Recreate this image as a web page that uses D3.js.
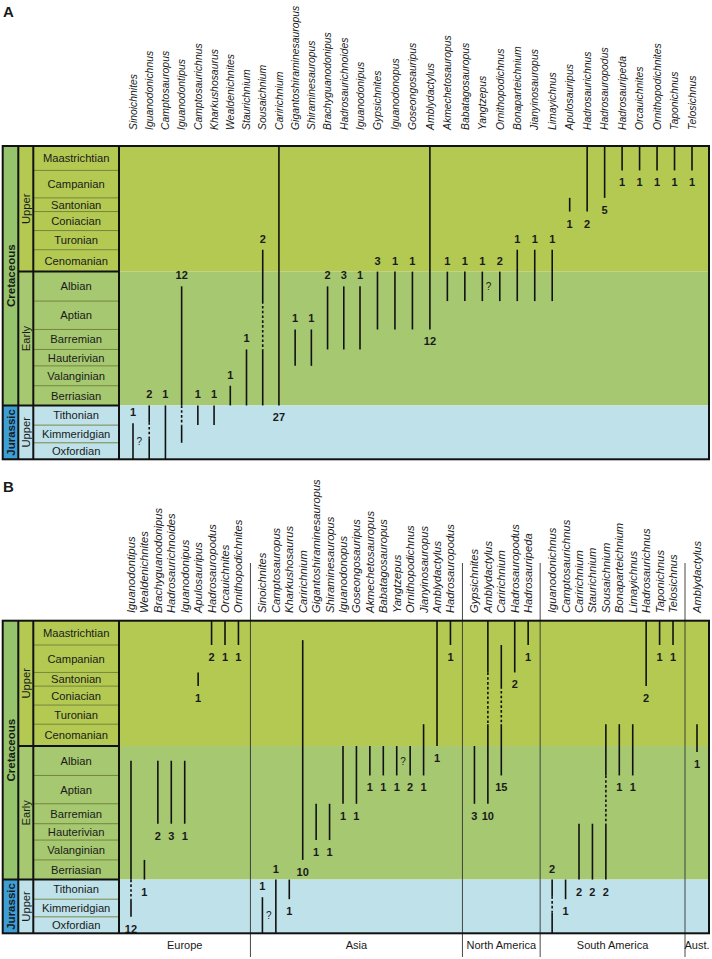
<!DOCTYPE html>
<html><head><meta charset="utf-8">
<script src="https://cdn.jsdelivr.net/npm/d3@7"></script>
<style>
body{margin:0;background:#fff}
svg{display:block}
text{font-family:"Liberation Sans",Arial,Helvetica,sans-serif;fill:#1a1a1a}
</style>
</head><body>
<svg id="chart" width="712" height="959"></svg>
<script>
// ---------- Time scale ----------
const stages = ["Maastrichtian","Campanian","Santonian","Coniacian","Turonian","Cenomanian",
  "Albian","Aptian","Barremian","Hauterivian","Valanginian","Berriasian",
  "Tithonian","Kimmeridgian","Oxfordian"];
// relative drawn height of each stage row (the figure is not to time scale)
const stageWeights = [24.4,27.5,13.7,19,19.2,21.9,29.5,28.4,20,16.4,19.9,19.7,19.7,17.7,16.5];
const epochNames = ["Upper","Early","Upper"];
const epochFrom = [0,6,12];
const epochTo = [6,12,15];
const periodNames = ["Cretaceous","Jurassic"];
const periodFrom = [0,12];
const periodTo = [12,15];

// ---------- Panel A : global ranges ----------
const taxaA = ["Sinoichnites","Iguanodonichnus","Camptosauropus","Iguanodontipus","Camptosaurichnus",
  "Kharkushosaurus","Wealdenichnites","Staurichnium","Sousaichnium","Caririchnium",
  "Gigantoshiraminesauropus","Shiraminesauropus","Brachyguanodonipus","Hadrosaurichnoides","Iguanodonipus",
  "Gypsichnites","Iguanodonopus","Goseongosauripus","Amblydactylus","Akmechetosauropus",
  "Babatagosauropus","Yangtzepus","Ornithopodichnus","Bonaparteichnium","Jianyinosauropus",
  "Limayichnus","Apulosauripus","Hadrosaurichnus","Hadrosauropodus","Hadrosauripeda",
  "Orcauichnites","Ornithopodichnites","Taponichnus","Telosichnus"];
// range in stage units (0 = top of Maastrichtian, 15 = base of Oxfordian)
const fromA = [12.9,12,12,6.5,12, 12,11,9,5,0, 8,8,6.5,6.5,6.5, 6,6,6,0,6, 6,6,6,5,5, 5,2,0,0,0, 0,0,0,0];
const toA   = [15,15,15,14,13, 13,12,12,12,12, 10,10,9,9,9, 8,8,8,8,7, 7,7,7,7,7, 7,3,3,2,1, 1,1,1,1];
const countA = [1,2,1,12,1, 1,1,1,2,27, 1,1,2,3,1, 3,1,1,12,1, 1,1,2,1,1, 1,1,2,5,1, 1,1,1,1];
const sideA = ["above","above","above","above","above","above","above","above","above","below",
  "above","above","above","above","above","above","above","above","below","above",
  "above","above","above","above","above","above","below","below","below","below",
  "below","below","below","below"];
const dashFromA = [null,12.85,null,12,null, null,null,null,7,null, null,null,null,null,null, null,null,null,null,null,
  null,null,null,null,null, null,null,null,null,null, null,null,null,null];
const dashToA = [null,13.75,null,13,null, null,null,null,9,null, null,null,null,null,null, null,null,null,null,null,
  null,null,null,null,null, null,null,null,null,null, null,null,null,null];
const queryA = [true,false,false,false,false, false,false,false,false,false, false,false,false,false,false,
  false,false,false,false,false, false,true,false,false,false, false,false,false,false,false,
  false,false,false,false];

// ---------- Panel B : ranges by continent ----------
const regions = ["Europe","Asia","North America","South America","Aust."];
const taxaB = ["Iguanodontipus","Wealdenichnites","Brachyguanodonipus","Hadrosaurichnoides","Iguanodonipus",
  "Apulosauripus","Hadrosauropodus","Orcauichnites","Ornithopodichnites",
  "Sinoichnites","Camptosauropus","Kharkushosaurus","Caririchnium","Gigantoshiraminesauropus",
  "Shiraminesauropus","Iguanodonopus","Goseongosauripus","Akmechetosauropus","Babatagosauropus",
  "Yangtzepus","Ornithopodichnus","Jianyinosauropus","Amblydactylus","Hadrosauropodus",
  "Gypsichnites","Amblydactylus","Caririchnium","Hadrosauropodus","Hadrosauripeda",
  "Iguanodonichnus","Camptosaurichnus","Caririchnium","Staurichnium","Sousaichnium",
  "Bonaparteichnium","Limayichnus","Hadrosaurichnus","Taponichnus","Telosichnus",
  "Amblydactylus"];
const regionB = [0,0,0,0,0,0,0,0,0, 1,1,1,1,1,1,1,1,1,1,1,1,1,1,1, 2,2,2,2,2, 3,3,3,3,3,3,3,3,3,3, 4];
const fromB = [6.5,11,6.5,6.5,6.5,2,0,0,0, 12.9,12,12,0.8,8,8,6,6,6,6,6,6,5,0,0, 6,0,1,0,0, 12,12,9,9,5,5,5,0,0,0, 5];
const toB   = [14,12,9,9,9,3,1,1,1, 15,15,13,11,10,10,8,8,7,7,7,7,7,6,1, 8,8,7,2,1, 15,13,12,12,12,7,7,3,1,1, 6.2];
const countB = [12,1,2,3,1,1,2,1,1, 1,1,1,10,1,1,1,1,1,1,1,2,1,1,1, 3,10,15,2,1, 2,1,2,2,2,1,1,2,1,1, 1];
const sideB = ["below","below","below","below","below","below","below","below","below",
  "above","above","below","below","below","below","below","below","below","below","below","below","below","below","below",
  "below","below","below","below","below",
  "above","below","below","below","below","below","below","below","below","below",
  "below"];
const dashFromB = [12,null,null,null,null,null,null,null,null, null,null,null,null,null,null,null,null,null,null,null,null,null,null,null,
  null,2,3,null,null, 12.85,null,null,null,7,null,null,null,null,null, null];
const dashToB = [13,null,null,null,null,null,null,null,null, null,null,null,null,null,null,null,null,null,null,null,null,null,null,null,
  null,5,5,null,null, 13.75,null,null,null,9,null,null,null,null,null, null];
const queryB = taxaB.map((t,i) => (t === "Sinoichnites" || t === "Yangtzepus"));

// ---------- layout ----------
const svg = d3.select("#chart");
const X = {period: 2.7, epoch: 18.3, stage: 33.3, chart: 119, right: 709};
const COL = {upper:"#b3c952", early:"#a6c870", jur:"#bfe2ea", cret:"#95c46c", jurP:"#3d9fd6"};
const epochFill = [COL.upper, COL.early, COL.jur];
const periodFill = [COL.cret, COL.jurP];

function yScale(top, bottom) {
  const total = d3.sum(stageWeights);
  const cum = [0];
  stageWeights.forEach(w => cum.push(cum[cum.length - 1] + w));
  return d3.scaleLinear().domain(d3.range(stages.length + 1))
    .range(cum.map(c => top + (bottom - top) * c / total));
}

function drawBackground(g, y) {
  epochNames.forEach((e, i) => {
    g.append("rect").attr("x", X.epoch).attr("y", y(epochFrom[i]))
      .attr("width", X.right - X.epoch).attr("height", y(epochTo[i]) - y(epochFrom[i]))
      .attr("fill", epochFill[i]);
  });
  periodNames.forEach((p, i) => {
    g.append("rect").attr("x", X.period).attr("y", y(periodFrom[i]))
      .attr("width", X.epoch - X.period).attr("height", y(periodTo[i]) - y(periodFrom[i]))
      .attr("fill", periodFill[i]);
  });
}

function drawFrame(g, y) {
  // stage rows
  stages.forEach((s, i) => {
    if (i > 0 && !epochFrom.includes(i)) {
      g.append("line").attr("x1", X.stage).attr("x2", X.chart).attr("y1", y(i)).attr("y2", y(i))
        .attr("stroke", "#6f7f3a").attr("stroke-width", 0.9);
    }
    g.append("text").attr("x", (X.stage + X.chart) / 2).attr("y", (y(i) + y(i + 1)) / 2 + 4)
      .attr("text-anchor", "middle").attr("font-size", "11.2px").text(s);
  });
  // epoch labels
  epochNames.forEach((e, i) => {
    const cy = (y(epochFrom[i]) + y(epochTo[i])) / 2;
    const cx = (X.epoch + X.stage) / 2 + 4;
    g.append("text").attr("transform", `translate(${cx},${cy}) rotate(-90)`)
      .attr("text-anchor", "middle").attr("font-size", "11.2px").text(e);
  });
  periodNames.forEach((p, i) => {
    const cy = (y(periodFrom[i]) + y(periodTo[i])) / 2;
    const cx = (X.period + X.epoch) / 2 + 4.2;
    g.append("text").attr("transform", `translate(${cx},${cy}) rotate(-90)`)
      .attr("text-anchor", "middle").attr("font-size", "11.5px").attr("font-weight", "bold").text(p);
  });
  // thick boundaries
  const thick = (x1, x2, y1, y2) => g.append("line").attr("x1", x1).attr("x2", x2).attr("y1", y1).attr("y2", y2)
    .attr("stroke", "#111").attr("stroke-width", 2);
  epochFrom.slice(1).forEach(b => {
    thick(periodFrom.includes(b) ? X.period : X.epoch, X.chart, y(b), y(b));
  });
  [X.epoch, X.stage, X.chart].forEach(x => thick(x, x, y(0), y(stages.length)));
  g.append("rect").attr("x", X.period).attr("y", y(0))
    .attr("width", X.right - X.period).attr("height", y(stages.length) - y(0))
    .attr("fill", "none").attr("stroke", "#111").attr("stroke-width", 2);
}

function drawRanges(g, y, xs, d) {
  d.taxa.forEach((t, i) => {
    const x = xs[i];
    const seg = (a, b, dashed) => {
      if (b <= a) return;
      g.append("line").attr("x1", x).attr("x2", x).attr("y1", y(a)).attr("y2", y(b))
        .attr("stroke", "#111").attr("stroke-width", 1.6)
        .attr("stroke-dasharray", dashed ? "2.6,2.2" : null);
    };
    const f = d.from[i], to = d.to[i];
    if (d.dashFrom[i] != null) {
      seg(f, d.dashFrom[i], false);
      seg(d.dashFrom[i], d.dashTo[i], true);
      seg(d.dashTo[i], to, false);
    } else seg(f, to, false);
    const ly = d.side[i] === "above" ? y(f) - 7 : y(to) + 16;
    g.append("text").attr("x", x).attr("y", ly).attr("text-anchor", "middle")
      .attr("font-size", "11px").attr("font-weight", "bold").text(d.count[i]);
    if (d.query[i]) {
      g.append("text").attr("x", x + 3.5).attr("y", (y(f) + y(to)) / 2 + 4)
        .attr("font-size", "10px").text("?");
    }
  });
}

function drawTaxonLabels(g, xs, taxa, baseY, size) {
  taxa.forEach((t, i) => {
    g.append("text").attr("transform", `translate(${xs[i] + size * 0.36},${baseY}) rotate(-90)`)
      .attr("font-size", size + "px").attr("font-style", "italic").text(t);
  });
}

// ---------- Panel A ----------
const gA = svg.append("g");
const yA = yScale(146, 459.3);
const xA = d3.scaleLinear().domain([0, 14, taxaA.length - 1]).range([133, 360, 692]);
const xsA = taxaA.map((t, i) => xA(i));
drawBackground(gA, yA);
drawRanges(gA, yA, xsA, {taxa: taxaA, from: fromA, to: toA, count: countA, side: sideA,
  dashFrom: dashFromA, dashTo: dashToA, query: queryA});
drawFrame(gA, yA);
drawTaxonLabels(gA, xsA, taxaA, 130, 10.4);
svg.append("text").attr("x", 3).attr("y", 17).attr("font-size", "15px").attr("font-weight", "bold").text("A");

// ---------- Panel B ----------
const gB = svg.append("g");
const yB = yScale(620.7, 933.3);
const pad = 0.893;
const regionCounts = regions.map((r, ri) => regionB.filter(v => v === ri).length);
const regionStart = [], regionEnd = [];
let u = 0;
regionCounts.forEach(n => { regionStart.push(u); u += (n - 1) + 2 * pad; regionEnd.push(u); });
const xB = d3.scaleLinear().domain([0, u]).range([X.chart, X.right]);
const idxInRegion = [];
regionB.forEach((r, i) => { idxInRegion.push(regionB.slice(0, i).filter(v => v === r).length); });
const xsB = taxaB.map((t, i) => xB(regionStart[regionB[i]] + pad + idxInRegion[i]));
drawBackground(gB, yB);
// continent separators
regionEnd.slice(0, -1).forEach(e => {
  gB.append("line").attr("x1", xB(e)).attr("x2", xB(e)).attr("y1", 563).attr("y2", 957)
    .attr("stroke", "#333").attr("stroke-width", 0.9);
});
drawRanges(gB, yB, xsB, {taxa: taxaB, from: fromB, to: toB, count: countB, side: sideB,
  dashFrom: dashFromB, dashTo: dashToB, query: queryB});
drawFrame(gB, yB);
drawTaxonLabels(gB, xsB, taxaB, 613, 11.2);
regions.forEach((r, i) => {
  gB.append("text").attr("x", (xB(regionStart[i]) + xB(regionEnd[i])) / 2).attr("y", 949)
    .attr("text-anchor", "middle").attr("font-size", "11px").text(r);
});
svg.append("text").attr("x", 3).attr("y", 492).attr("font-size", "15px").attr("font-weight", "bold").text("B");
</script>
</body></html>
